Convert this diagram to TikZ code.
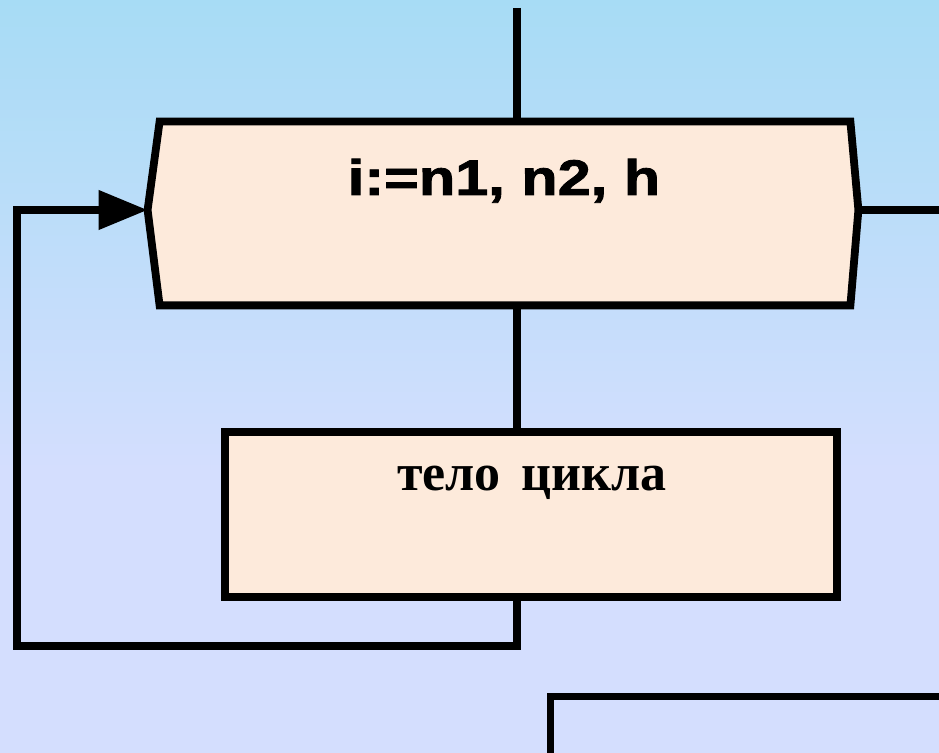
\documentclass[tikz,border=0pt]{standalone}
\usepackage{fontspec}
\newfontfamily\sanshead{Liberation Sans}[BoldFeatures={FakeBold=1.6}]
\newfontfamily\serifbody{Liberation Serif}
\usetikzlibrary{arrows.meta,calc}
\definecolor{skytop}{HTML}{A7DCF5}
\definecolor{skybot}{HTML}{D4DEFE}
\definecolor{peach}{HTML}{FDEADB}
\begin{document}
\begin{tikzpicture}[x=0.5pt,y=-0.5pt,
    block/.style={draw, line width=3.9pt, fill=peach, inner sep=0pt},
    wire/.style={line width=3.7pt},
    label/.style={anchor=base, inner sep=0pt}]
    \useasboundingbox (0,0) rectangle (939,753);
    % background
    \shade[top color=skytop, bottom color=skybot] (0,0) rectangle (939,470);
    \fill[skybot] (0,470) rectangle (939,753);

    % loop header
    \node[minimum width=345pt, minimum height=91.5pt, inner sep=0pt] (head) at (505,213.5) {};
    \coordinate (head-in) at ($(head.west)+(-6pt,1.75pt)$);
    \coordinate (head-out) at ($(head.east)+(4pt,1.75pt)$);
    \draw[block] (head.north west) -- (head.north east) -- (head-out) -- (head.south east)
        -- (head.south west) -- (head-in) -- cycle;
    \node[label] (headtext) at (504,195)
        {\sanshead\bfseries\fontsize{25}{30}\selectfont\scalebox{1.19}[1]{i:=n1, n2, h}};

    % loop body
    \node[block, minimum width=306pt, minimum height=82.5pt] (body) at (531,514.5) {};
    \node[label] (bodytext) at (532,491)
        {\serifbody\bfseries\fontsize{26}{30}\selectfont тело\hspace{4pt} цикла};

    % connectors
    \coordinate (top) at (517,8);
    \coordinate (turn) at (517,646);
    \coordinate (back) at (17,646);
    \coordinate (exit) at (939,0);
    \draw[wire] (top) -- (top |- head.north);
    \draw[wire] (top |- head.south) -- (top |- body.north);
    \draw[wire, -{Triangle[length=24.5pt, width=19pt]}] (top |- body.south) -- (turn) -- (back) |- (head-in);
    \draw[wire] (head-out) -- (head-out -| exit);

    % next block
    \coordinate (next) at (550.5,696.5);
    \draw[wire] (550.5,760) -- (next) -- (945,696.5);
\end{tikzpicture}
\end{document}
